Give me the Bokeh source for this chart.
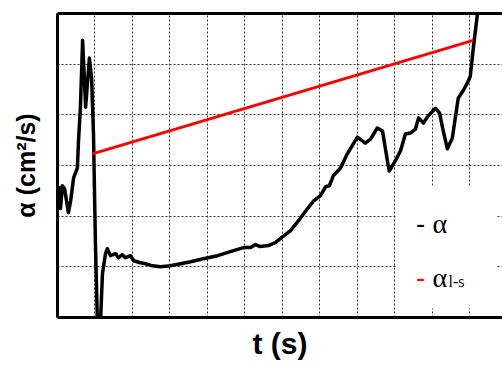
from bokeh.plotting import figure
from bokeh.models import Range1d, FixedTicker, LinearAxis, Label, BoxAnnotation
from bokeh.embed import file_html
from bokeh.resources import INLINE

# black curve: alpha(t)
t_alpha = [0.05, 0.08, 0.13, 0.19, 0.29, 0.35, 0.43, 0.53, 0.56, 0.61, 0.67, 0.75, 0.85, 0.91,
           0.96, 1.01, 1.07, 1.12, 1.15, 1.20, 1.28, 1.33, 1.41, 1.55, 1.63, 1.73, 1.81, 1.95,
           2.03, 2.21, 2.35, 2.53, 2.75, 3.01, 3.28, 3.55, 3.89, 4.27, 4.61, 4.96, 5.15, 5.28,
           5.41, 5.63, 5.81, 6.00, 6.21, 6.43, 6.67, 6.83, 7.01, 7.15, 7.25, 7.36, 7.55, 7.73,
           8.00, 8.21, 8.35, 8.53, 8.67, 8.80, 8.85, 9.01, 9.15, 9.28, 9.41, 9.55, 9.63, 9.76,
           9.89, 10.08, 10.19, 10.29, 10.40, 10.53, 10.69, 10.83, 10.96, 11.01, 11.09, 11.20, 11.25]
alpha = [2.56, 2.15, 2.60, 2.54, 2.07, 2.30, 2.76, 2.95, 3.48, 4.13, 5.47, 4.15, 5.12, 4.72,
         3.62, 1.52, -0.26, -0.26, -0.02, 0.87, 1.26, 1.36, 1.22, 1.26, 1.18, 1.24, 1.18, 1.22,
         1.12, 1.08, 1.06, 1.02, 1.00, 1.02, 1.06, 1.10, 1.16, 1.22, 1.30, 1.38, 1.38, 1.44,
         1.40, 1.42, 1.48, 1.59, 1.71, 1.91, 2.15, 2.30, 2.40, 2.58, 2.60, 2.80, 2.95, 3.23,
         3.56, 3.44, 3.52, 3.74, 3.68, 3.09, 2.89, 3.09, 3.29, 3.62, 3.64, 3.72, 3.94, 3.84,
         3.98, 4.13, 4.04, 3.68, 3.33, 3.54, 4.33, 4.49, 4.67, 4.76, 5.31, 5.98, 6.24]

# red line: alpha_l-s(t)
t_ls = [0.93, 11.09]
alpha_ls = [3.23, 5.47]

grid_x = list(range(0, 13))
grid_y = list(range(0, 7))

p = figure(width=502, height=365, output_backend="svg", toolbar_location=None,
           x_range=Range1d(0, 11.87), y_range=Range1d(0, 6),
           min_border_left=57, min_border_right=0, min_border_top=13, min_border_bottom=48)
p.outline_line_color = None
p.background_fill_color = "white"
p.border_fill_color = "white"

for ax in (p.xaxis[0], p.yaxis[0]):
    ax.ticker = FixedTicker(ticks=[])
    ax.major_tick_in = 0
    ax.major_tick_out = 0
    ax.minor_tick_in = 0
    ax.minor_tick_out = 0
    ax.major_label_text_font_size = "0px"
    ax.axis_line_width = 3
    ax.axis_line_color = "black"
    ax.axis_label_text_font = "Liberation Sans"
    ax.axis_label_text_font_style = "bold"
    ax.axis_label_text_color = "black"
p.xaxis.axis_label = "t (s)"
p.xaxis.axis_label_text_font_size = "30px"
p.xaxis.axis_label_standoff = 9
p.yaxis.axis_label = "α (cm²/s)"
p.yaxis.axis_label_text_font_size = "25px"
p.yaxis.axis_label_standoff = 18

top = LinearAxis(ticker=FixedTicker(ticks=[]), major_tick_in=0, major_tick_out=0,
                 minor_tick_in=0, minor_tick_out=0, major_label_text_font_size="0px",
                 axis_line_width=3, axis_line_color="black")
p.add_layout(top, "above")

p.xgrid.ticker = FixedTicker(ticks=grid_x)
p.ygrid.ticker = FixedTicker(ticks=grid_y)
for g in (p.xgrid, p.ygrid):
    g.grid_line_color = "#333333"
    g.grid_line_width = 1
    g.grid_line_dash = "2 2"

p.line(t_alpha, alpha, line_color="black", line_width=3.5, line_join="round", line_cap="round")
p.line(t_ls, alpha_ls, line_color="#ff0000", line_width=3)

# legend area
p.add_layout(BoxAnnotation(left=9.04, right=11.71, bottom=0.18, top=2.6,
                           fill_color="white", fill_alpha=1.0, line_color=None))
lab_kw = dict(text_font="Liberation Serif", text_baseline="alphabetic")
p.add_layout(Label(x=9.57, y=1.85, text="-", text_font_size="26px", text_color="black",
                   text_font_style="bold", **lab_kw))
p.add_layout(Label(x=10.0, y=1.85, text="α", text_font_size="28px", text_color="black", **lab_kw))
p.add_layout(Label(x=9.57, y=0.79, text="-", text_font_size="26px", text_color="#ff0000",
                   text_font_style="bold", **lab_kw))
p.add_layout(Label(x=10.0, y=0.79, text="α", text_font_size="28px", text_color="black", **lab_kw))
p.add_layout(Label(x=10.43, y=0.71, text="l-s", text_font_size="16px", text_color="black", **lab_kw))

open("out.html", "w").write(file_html(p, INLINE))
